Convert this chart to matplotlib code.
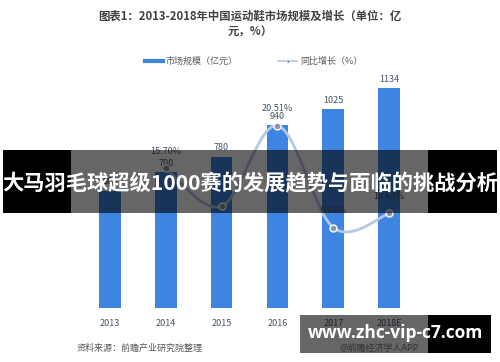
import matplotlib
matplotlib.use("Agg")
import matplotlib.pyplot as plt
from matplotlib.patches import Rectangle
from matplotlib.path import Path
from matplotlib.patches import PathPatch
from matplotlib.lines import Line2D

plt.rcParams['font.family'] = ['Noto Sans CJK SC', 'DejaVu Sans']

years = ['2013', '2014', '2015', '2016', '2017', '2018E']
market = [605, 700, 780, 940, 1025, 1134]
growth_idx = [1, 2, 3, 4, 5]
growth = [15.70, 11.43, 20.51, 9.04, 10.63]
growth_labels = ['15.70%', '', '20.51%', '9.04%', '10.63%']

W, H = 500, 362
fig = plt.figure(figsize=(W / 100, H / 100), dpi=100)
fig.patch.set_facecolor('white')

def fx(x):
    return x / W

def fy(y):
    return 1 - y / H

ax = fig.add_axes([fx(82), fy(308), 335 / W, 233 / H])
ax2 = ax.twinx()
ax.set_zorder(0)
ax2.set_zorder(0.5)

bar_color = '#3d85e0'
ax.bar(range(len(years)), market, width=0.39, color=bar_color, zorder=2)
ax.set_xlim(-0.5, len(years) - 0.5)
ax.set_ylim(0, 1200)
for i, v in enumerate(market):
    ax.annotate(str(v), (i, v), xytext=(0, 3), textcoords='offset points',
                ha='center', va='bottom', fontsize=6.5, color='#44546a')

ax2.set_ylim(0, 26.2)

# smooth curve (Catmull-Rom -> cubic Bezier) through the data points
pts = list(zip(growth_idx, growth))
verts = [pts[0]]
codes = [Path.MOVETO]
for k in range(len(pts) - 1):
    p0 = pts[k - 1] if k > 0 else pts[k]
    p1 = pts[k]
    p2 = pts[k + 1]
    p3 = pts[k + 2] if k + 2 < len(pts) else pts[k + 1]
    t = 1 / 6
    c1 = (p1[0] + (p2[0] - p0[0]) * t, p1[1] + (p2[1] - p0[1]) * t)
    c2 = (p2[0] - (p3[0] - p1[0]) * t, p2[1] - (p3[1] - p1[1]) * t)
    verts += [c1, c2, p2]
    codes += [Path.CURVE4] * 3
ax2.add_patch(PathPatch(Path(verts, codes), facecolor='none',
                        edgecolor='#b4c7e7', lw=2, zorder=3))
ax2.plot(growth_idx, growth, linestyle='none', marker='o', ms=5,
         mfc='#8497b0', mec='white', mew=1, zorder=4)
for i, v, lab in zip(growth_idx, growth, growth_labels):
    if lab:
        ax2.annotate(lab, (i, v), xytext=(0, 9), textcoords='offset points',
                     ha='center', va='bottom', fontsize=6.5, color='#44546a')

for a in (ax, ax2):
    for s in a.spines.values():
        s.set_visible(False)
    a.set_yticks([])
ax.set_xticks(range(len(years)))
ax.set_xticklabels(years, fontsize=6.5, color='#44546a')
ax.tick_params(axis='x', length=0, pad=8)

# title
fig.text(0.5, fy(16), '图表1：2013-2018年中国运动鞋市场规模及增长（单位：亿',
         ha='center', va='center', fontsize=8.2, fontweight='bold', color='#404040')
fig.text(0.5, fy(32), '元，%）', ha='center', va='center', fontsize=8.2,
         fontweight='bold', color='#404040')

# legend
fig.add_artist(Line2D([fx(145), fx(163)], [fy(61), fy(61)], color=bar_color, lw=3))
fig.text(fx(165), fy(61), '市场规模（亿元）', ha='left', va='center', fontsize=6.5, color='#595959')
fig.add_artist(Line2D([fx(278), fx(297)], [fy(61), fy(61)], color='#b4c7e7', lw=1.2))
fig.add_artist(Line2D([fx(288)], [fy(61)], marker='o', ms=2.5, mfc='#8497b0', mec='white', mew=0.5, lw=0))
fig.text(fx(300), fy(61), '同比增长（%）', ha='left', va='center', fontsize=6.5, color='#595959')

# source
fig.text(fx(77), fy(348), '资料来源：前瞻产业研究院整理', ha='left', va='center',
         fontsize=6.5, color='#595959', style='italic')
fig.text(fx(340), fy(348), '@前瞻经济学人APP', ha='left', va='center',
         fontsize=6.5, color='#7f7f7f')

# overlay banner
def rect(x0, y0, x1, y1, color, alpha, z=5):
    fig.add_artist(Rectangle((fx(x0), fy(y1)), fx(x1) - fx(x0), fy(y0) - fy(y1),
                             transform=fig.transFigure, facecolor=color,
                             edgecolor='none', alpha=alpha, zorder=z))

rect(3, 150, 71, 213, 'black', 1.0)
rect(71, 150, 428, 213, 'black', 0.6)
rect(428, 150, 497, 213, 'black', 1.0)
fig.text(0.5, fy(184), '大马羽毛球超级1000赛的发展趋势与面临的挑战分析', ha='center',
         va='center', fontsize=15.3, fontweight='bold', color='white', zorder=6)

rect(300, 315, 428, 353, 'black', 0.6)
rect(428, 315, 491, 353, 'black', 1.0)
fig.text(fx(395), fy(333), 'www.zhc-vip-c7.com', ha='center', va='center',
         fontsize=12.5, fontweight='bold', color='white', zorder=6,
         family=['Open Sans', 'DejaVu Sans'])

fig.savefig('out.png', dpi=100)
